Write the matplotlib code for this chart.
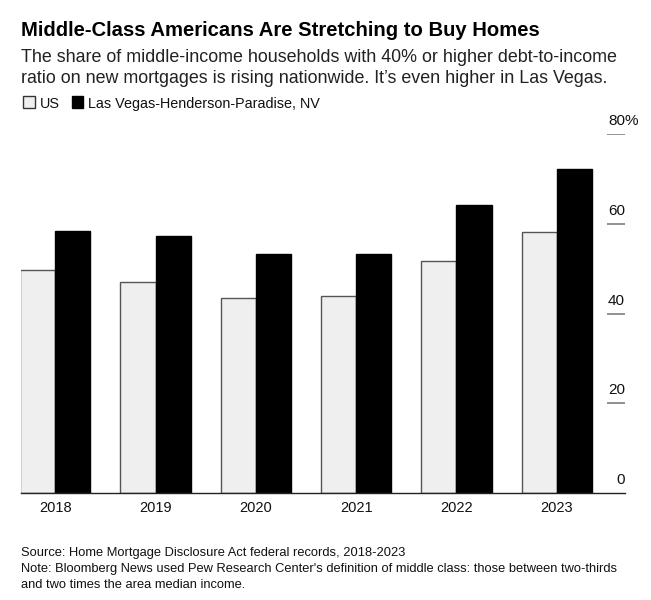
import numpy as np
import matplotlib
matplotlib.use("Agg")
import matplotlib.pyplot as plt
from matplotlib.patches import Rectangle

plt.rcParams['font.family'] = ['Liberation Sans', 'DejaVu Sans']

years = ["2018", "2019", "2020", "2021", "2022", "2023"]
us = [49.7, 47.1, 43.5, 44.0, 51.6, 58.1]
las_vegas = [58.3, 57.2, 53.2, 53.2, 64.2, 72.2]
yticks = [0, 20, 40, 60, 80]

title = "Middle-Class Americans Are Stretching to Buy Homes"
subtitle = ["The share of middle-income households with 40% or higher debt-to-income",
            "ratio on new mortgages is rising nationwide. It\u2019s even higher in Las Vegas."]
footer = ["Source: Home Mortgage Disclosure Act federal records, 2018-2023",
          "Note: Bloomberg News used Pew Research Center's definition of middle class: those between two-thirds",
          "and two times the area median income."]

fig = plt.figure(figsize=(6.51, 6.00), dpi=100)
ax = fig.add_axes([21/651, 1-493/600, (625-21)/651, (493-134)/600])

x = np.arange(len(years))
w = 0.35
ax.bar(x - w/2, us, w, color="#efefef", edgecolor="#555555", linewidth=1.0, zorder=2)
ax.bar(x + w/2, las_vegas, w, color="black", edgecolor="black", linewidth=1.0, zorder=2)

xmax = 5.68
ax.set_xlim(-0.342, xmax)
ax.set_ylim(0, 80)

for s in ["top", "left", "right"]:
    ax.spines[s].set_visible(False)
ax.spines["bottom"].set_color("#222222")
ax.spines["bottom"].set_linewidth(1.0)
ax.set_yticks([])
ax.set_xticks(x)
ax.set_xticklabels(years, fontsize=10.5, color="#111111")
ax.tick_params(axis="x", length=0, pad=6)

# right-side value ticks with labels sitting above
ax.hlines(yticks[1:], 5.50, xmax, color="#888888", linewidth=1.3, zorder=3)
for v in yticks:
    ax.text(xmax, v + 2.0, str(v), ha="right", va="baseline", fontsize=11, color="#111111")
ax.annotate("%", (xmax, yticks[-1] + 2.0), xytext=(-0.5, 0), textcoords="offset points",
            ha="left", va="baseline", fontsize=11, color="#111111", annotation_clip=False)

fig.text(21/651, 1-36/600, title, fontsize=14.6, fontweight="bold", color="black", va="baseline")
for i, line in enumerate(subtitle):
    fig.text(21/651, 1-(62.3 + 20.4*i)/600, line, fontsize=12.85, color="#222222", va="baseline")

# legend
fig.patches.append(Rectangle((23/651, 1-108/600), 12/651, 12/600, transform=fig.transFigure,
                             facecolor="#efefef", edgecolor="#333333", linewidth=1.0))
fig.text(40/651, 1-108.3/600, "US", fontsize=10.4, color="#111111", va="baseline")
fig.patches.append(Rectangle((71.5/651, 1-108/600), 11/651, 12/600, transform=fig.transFigure,
                             facecolor="black", edgecolor="black", linewidth=1.0))
fig.text(88/651, 1-108.3/600, "Las Vegas-Henderson-Paradise, NV", fontsize=10.4,
         color="#111111", va="baseline")

for i, line in enumerate(footer):
    fig.text(21/651, 1-(555.7 + 16*i)/600, line, fontsize=9.3, color="#111111", va="baseline")

fig.savefig("out.png", dpi=100)
